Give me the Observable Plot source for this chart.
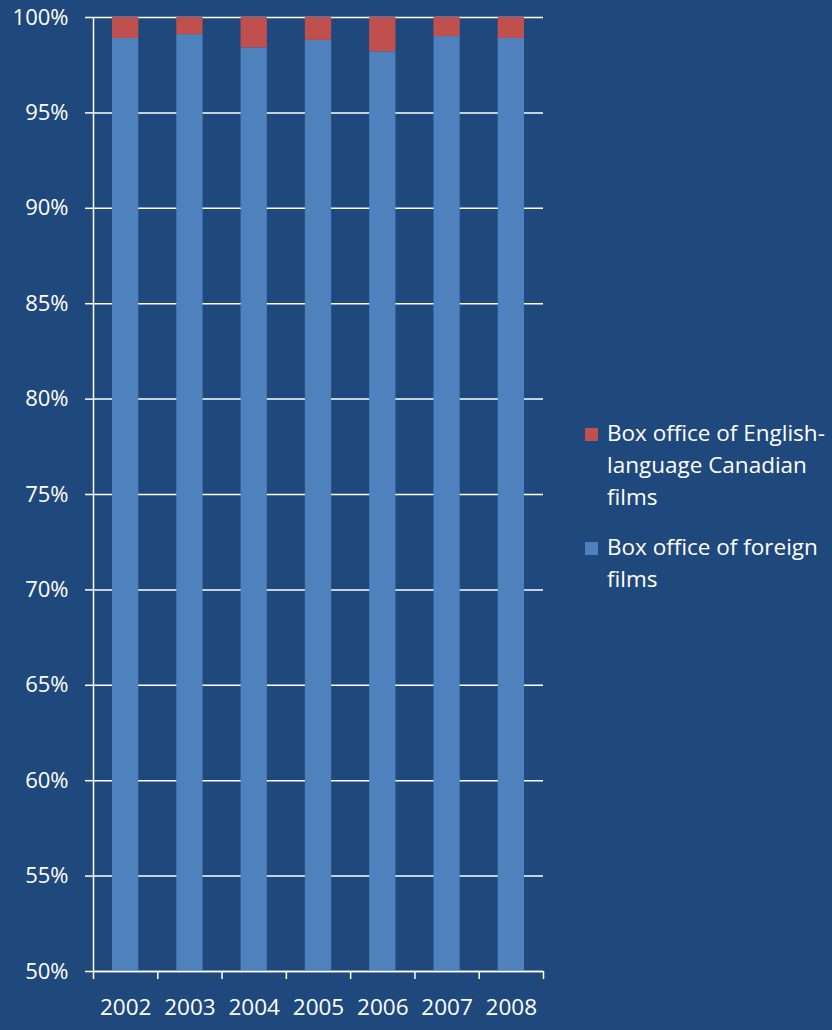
<!DOCTYPE html>
<html>
<head>
<meta charset="utf-8">
<script src="https://cdn.jsdelivr.net/npm/d3@7"></script>
<script src="https://cdn.jsdelivr.net/npm/@observablehq/plot@0.6"></script>
<style>
  html, body { margin: 0; padding: 0; background: #1F497D; }
  #wrap { position: relative; width: 832px; height: 1030px; background: #1F497D; font-family: "Open Sans", sans-serif; }
  #legend { position: absolute; left: 585px; top: 417px; color: #fff; font-size: 22.5px; line-height: 32px; }
  .item { display: flex; align-items: flex-start; margin-bottom: 18px; }
  .sw { width: 13px; height: 13px; margin-top: 11px; margin-right: 9px; flex: none; }
</style>
</head>
<body>
<div id="wrap"><div id="chart"></div><div id="legend"></div></div>
<script>
const years = ["2002", "2003", "2004", "2005", "2006", "2007", "2008"];
const canadian = [1.1, 0.9, 1.6, 1.2, 1.8, 1.0, 1.1];
const foreign = [98.9, 99.1, 98.4, 98.8, 98.2, 99.0, 98.9];
const seriesNames = ["Box office of foreign films", "Box office of English-language Canadian films"];
const seriesColors = ["#4F81BD", "#C0504D"];
const yTicks = [50, 55, 60, 65, 70, 75, 80, 85, 90, 95, 100];

const rows = [];
years.forEach((y, i) => {
  rows.push({i, year: y, series: seriesNames[0], value: foreign[i]});
  rows.push({i, year: y, series: seriesNames[1], value: canadian[i]});
});

const chart = Plot.plot({
  width: 832,
  height: 1030,
  marginTop: 17,
  marginBottom: 59,
  marginLeft: 93,
  marginRight: 289,
  style: {background: "#1F497D", color: "#fff", fontFamily: "Open Sans, sans-serif", fontSize: "22px"},
  x: {type: "linear", domain: [0, years.length]},
  y: {domain: [50, 100]},
  color: {domain: seriesNames, range: seriesColors},
  marks: [
    Plot.gridY(yTicks, {stroke: "#fff", strokeOpacity: 1, strokeWidth: 1.5}),
    Plot.rectY(rows, {
      x1: "i", x2: d => d.i + 1, y: "value", fill: "series",
      order: seriesNames, insetLeft: 19, insetRight: 19, clip: true
    }),
    Plot.axisY(yTicks, {tickFormat: d => d + "%", tickSize: 8, tickPadding: 17, stroke: "#fff", strokeWidth: 1.5, fill: "#fff", fontSize: 22, label: null}),
    Plot.ruleX([0], {stroke: "#fff", strokeWidth: 1.5}),
    Plot.ruleY([50], {stroke: "#fff", strokeWidth: 1.5}),
    Plot.axisX(d3.range(years.length + 1), {tickSize: 8, tickFormat: () => "", stroke: "#fff", strokeWidth: 1.5, label: null}),
    Plot.axisX(years.map((y, i) => i + 0.5), {tickSize: 0, tickPadding: 28, tickFormat: v => years[Math.floor(v)], fill: "#fff", fontSize: 22.5, label: null})
  ]
});
document.getElementById("chart").appendChild(chart);

const legend = document.getElementById("legend");
[{name: "Box office of English-<br>language Canadian<br>films", color: seriesColors[1]},
 {name: "Box office of foreign<br>films", color: seriesColors[0]}].forEach(s => {
  const div = document.createElement("div");
  div.className = "item";
  div.innerHTML = `<span class="sw" style="background:${s.color}"></span><span>${s.name}</span>`;
  legend.appendChild(div);
});
</script>
</body>
</html>
